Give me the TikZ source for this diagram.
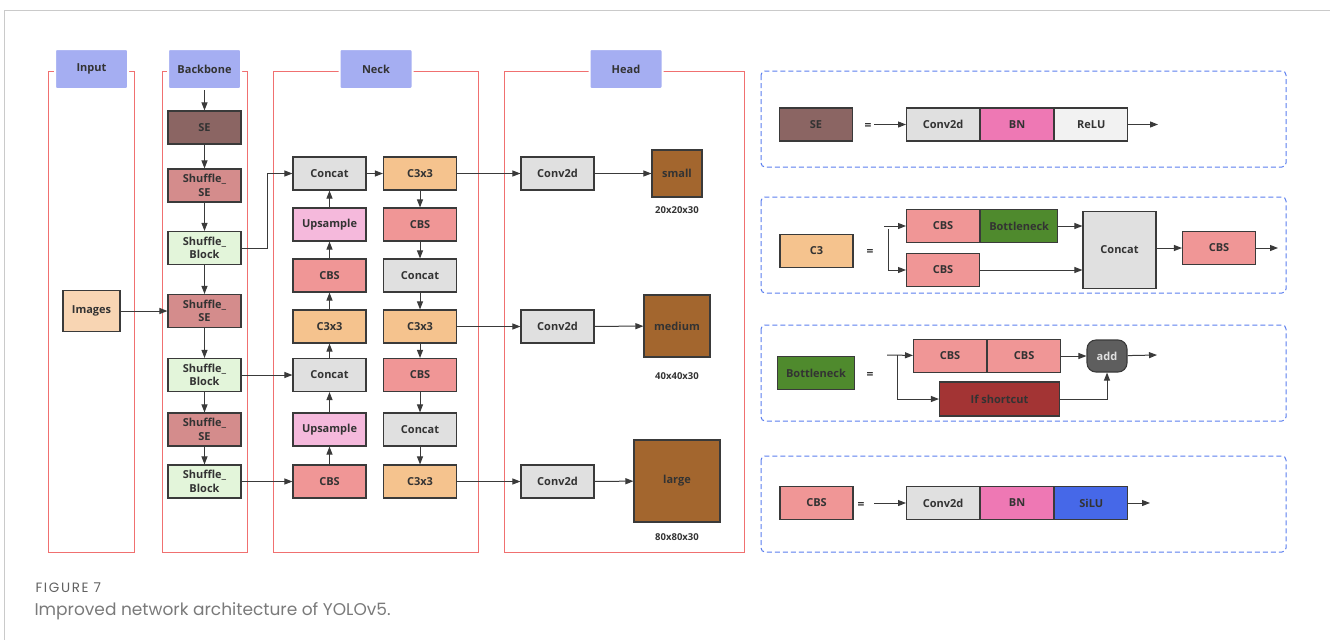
\documentclass[tikz,border=0pt]{standalone}
\usepackage{fontspec}
\setmainfont{Open Sans}
\newfontfamily\capfont{Poppins}
\newfontfamily\capnofont[LetterSpace=12]{Poppins}
\usepackage{xcolor}
\definecolor{colHdr}{HTML}{A5AEF2}
\definecolor{colLane}{HTML}{F07070}
\definecolor{colPanel}{HTML}{5A7EEE}
\definecolor{colRule}{HTML}{CACACA}
\definecolor{colEdge}{HTML}{3A3A3A}
\definecolor{colTxt}{HTML}{333333}
\definecolor{colSE}{HTML}{8B6563}
\definecolor{colShSE}{HTML}{D48C8C}
\definecolor{colShBl}{HTML}{E3F5DA}
\definecolor{colImg}{HTML}{F8D5B3}
\definecolor{colGray}{HTML}{E0E0E0}
\definecolor{colC3}{HTML}{F5C38E}
\definecolor{colCBS}{HTML}{F09696}
\definecolor{colUp}{HTML}{F5B9DC}
\definecolor{colOut}{HTML}{A3662E}
\definecolor{colBN}{HTML}{EE78B4}
\definecolor{colReLU}{HTML}{F2F2F2}
\definecolor{colSiLU}{HTML}{4668E8}
\definecolor{colBott}{HTML}{4F8A2D}
\definecolor{colShort}{HTML}{A33434}
\definecolor{colAdd}{HTML}{5E5E5E}
\usepackage{tikz}
\usetikzlibrary{arrows.meta, positioning}

\tikzset{
	blk/.style={draw=colEdge, line width=1.1pt, minimum width=73pt, minimum height=33pt, inner sep=1pt,
		align=center, text=colTxt, font=\bfseries\fontsize{11}{13.5}\selectfont},
	hdr/.style={fill=colHdr, draw=white, line width=2pt, rounded corners=2pt, minimum width=73pt,
		minimum height=40pt, text=colTxt, font=\bfseries\fontsize{11}{13.5}\selectfont},
	lane/.style={draw=colLane, line width=0.9pt},
	panel/.style={draw=colPanel, line width=1pt, dash pattern=on 5pt off 3pt, rounded corners=4pt},
	arr/.style={draw=colEdge, line width=1pt, -{Triangle[length=8pt, width=6pt]}},
	eqs/.style={text=colTxt, font=\bfseries\fontsize{12}{14}\selectfont},
	dim/.style={text=colTxt, font=\bfseries\fontsize{9.5}{11}\selectfont},
}

\begin{document}
\begin{tikzpicture}[x=1pt, y=-1pt]
	\useasboundingbox (0,0) rectangle (1330,640);
	\draw[colRule, line width=1pt] (1330,10) -- (4,10) -- (4,640);

	% the four stages
	\draw[lane] (48,71) rectangle (134,552);
	\draw[lane] (162,71) rectangle (247,552);
	\draw[lane] (273,71) rectangle (478,552);
	\draw[lane] (504,71) rectangle (744,552);
	\node[hdr] (hIn) at (91.5,69) {Input};
	\node[hdr] (hBack) at (204.5,69) {Backbone};
	\node[hdr] (hNeck) at (376,69) {Neck};
	\node[hdr] (hHead) at (626,69) {Head};

	\node[blk, fill=colImg, minimum width=57pt, minimum height=41pt] (img) at (91.5,311) {Images};

	% backbone
	\node[blk, fill=colSE] (se) at (204.5,127.5) {SE};
	\node[blk, fill=colShSE] (bs1) at (204.5,185.5) {Shuffle\_\\SE};
	\node[blk, fill=colShBl] (bb1) at (204.5,248) {Shuffle\_\\Block};
	\node[blk, fill=colShSE] (bs2) at (204.5,311) {Shuffle\_\\SE};
	\node[blk, fill=colShBl] (bb2) at (204.5,375) {Shuffle\_\\Block};
	\node[blk, fill=colShSE] (bs3) at (204.5,429.5) {Shuffle\_\\SE};
	\node[blk, fill=colShBl] (bb3) at (204.5,481.5) {Shuffle\_\\Block};
	\draw[arr] (hBack) -- (se);
	\foreach \a/\b in {se/bs1, bs1/bb1, bb1/bs2, bs2/bb2, bb2/bs3, bs3/bb3}
		\draw[arr] (\a) -- (\b);
	\draw[arr] (img) -- (bs2);

	% neck
	\node[blk, fill=colGray] (nc1) at (329.5,173.5) {Concat};
	\node[blk, fill=colUp] (nu1) at (329.5,224.5) {Upsample};
	\node[blk, fill=colCBS] (nb1) at (329.5,275.5) {CBS};
	\node[blk, fill=colC3] (nx1) at (329.5,326.5) {C3x3};
	\node[blk, fill=colGray] (nc2) at (329.5,375) {Concat};
	\node[blk, fill=colUp] (nu2) at (329.5,429.5) {Upsample};
	\node[blk, fill=colCBS] (nb2) at (329.5,481.5) {CBS};
	\node[blk, fill=colC3] (rx1) at (420,173.5) {C3x3};
	\node[blk, fill=colCBS] (rb1) at (420,224.5) {CBS};
	\node[blk, fill=colGray] (rc1) at (420,275.5) {Concat};
	\node[blk, fill=colC3] (rx2) at (420,326.5) {C3x3};
	\node[blk, fill=colCBS] (rb2) at (420,375) {CBS};
	\node[blk, fill=colGray] (rc2) at (420,429.5) {Concat};
	\node[blk, fill=colC3] (rx3) at (420,481.5) {C3x3};
	\coordinate (bend) at (267,248);
	\draw[arr] (bb1.east) -- (bend) |- (nc1.west);
	\draw[arr] (bb2) -- (nc2);
	\draw[arr] (bb3) -- (nb2);
	\foreach \a/\b in {nb2/nu2, nu2/nc2, nc2/nx1, nx1/nb1, nb1/nu1, nu1/nc1}
		\draw[arr] (\a) -- (\b);
	\draw[arr] (nc1) -- (rx1);
	\foreach \a/\b in {rx1/rb1, rb1/rc1, rc1/rx2, rx2/rb2, rb2/rc2, rc2/rx3}
		\draw[arr] (\a) -- (\b);

	% head
	\node[blk, fill=colGray] (cv1) at (557.5,173.5) {Conv2d};
	\node[blk, fill=colGray] (cv2) at (557.5,326.5) {Conv2d};
	\node[blk, fill=colGray] (cv3) at (557.5,481.5) {Conv2d};
	\node[blk, fill=colOut, minimum width=50pt, minimum height=47pt] (sm) at (677,173.5) {small};
	\node[blk, fill=colOut, minimum width=66pt, minimum height=62pt] (md) at (677,326) {medium};
	\node[blk, fill=colOut, minimum width=86pt, minimum height=82pt] (lg) at (677,481) {large};
	\node[dim] (smDim) at (677,210) {20x20x30};
	\node[dim] (mdDim) at (677,376) {40x40x30};
	\node[dim] (lgDim) at (677,537) {80x80x30};
	\draw[arr] (rx1) -- (cv1);
	\draw[arr] (rx2) -- (cv2);
	\draw[arr] (rx3) -- (cv3);
	\draw[arr] (cv1) -- (sm);
	\draw[arr] (cv2) -- (md);
	\draw[arr] (cv3) -- (lg);

	% module definitions
	\draw[panel] (761,71) rectangle (1286,167);
	\draw[panel] (761,197) rectangle (1286,293);
	\draw[panel] (761,325) rectangle (1286,421);
	\draw[panel] (761,456) rectangle (1286,552);

	% SE
	\node[blk, fill=colSE] (seK) at (816,124.5) {SE};
	\node[eqs] (eq1) at (868,126) {=};
	\node[blk, fill=colGray, anchor=west] (p1a) at (906,124.5) {Conv2d};
	\node[blk, fill=colBN, right=0pt of p1a] (p1b) {BN};
	\node[blk, fill=colReLU, right=0pt of p1b] (p1c) {ReLU};
	\coordinate (p1i) at (874,124.5);
	\coordinate (p1o) at (1158,124.5);
	\draw[arr] (p1i) -- (p1a);
	\draw[arr] (p1c) -- (p1o);

	% C3
	\node[blk, fill=colC3] (c3K) at (816.5,251) {C3};
	\node[eqs] (eq2) at (870,252) {=};
	\node[blk, fill=colCBS, anchor=west] (p2a) at (906,226) {CBS};
	\node[blk, fill=colBott, minimum width=77pt, right=0pt of p2a] (p2b) {Bottleneck};
	\node[blk, fill=colCBS, anchor=west] (p2c) at (906,270) {CBS};
	\node[blk, fill=colGray, minimum height=77pt] (p2d) at (1119.5,250) {Concat};
	\node[blk, fill=colCBS] (p2e) at (1219,248) {CBS};
	\coordinate (p2s) at (884,226);
	\coordinate (p2v) at (888,229);
	\coordinate (p2o) at (1278,248);
	\draw[arr] (p2s) -- (p2a);
	\draw[arr] (p2v) |- (p2c);
	\draw[arr] (p2b) -- (p2b -| p2d.west);
	\draw[arr] (p2c) -- (p2c -| p2d.west);
	\draw[arr] (p2d.east |- p2e) -- (p2e);
	\draw[arr] (p2e) -- (p2o);

	% Bottleneck
	\node[blk, fill=colBott, minimum width=77pt] (bnK) at (816,373) {Bottleneck};
	\node[eqs] (eq3) at (870,375) {=};
	\node[blk, fill=colCBS, anchor=west] (p3a) at (913,356) {CBS};
	\node[blk, fill=colCBS, right=0pt of p3a] (p3b) {CBS};
	\node[blk, fill=colAdd, text=colGray, rounded corners=9pt, minimum width=40pt, minimum height=32pt] (p3d) at (1107,356) {add};
	\node[blk, fill=colShort, minimum width=120pt, minimum height=34pt] (p3c) at (999.5,399) {If shortcut};
	\coordinate (p3s) at (887,355);
	\coordinate (p3v) at (897,355);
	\coordinate (p3o) at (1157,355);
	\draw[arr] (p3s) -- (p3a);
	\draw[arr] (p3v) |- (p3c);
	\draw[arr] (p3b) -- (p3d);
	\draw[arr] (p3c.east) -| (p3d.south);
	\draw[arr] (p3d) -- (p3o);

	% CBS
	\node[blk, fill=colCBS] (cbsK) at (816.5,503) {CBS};
	\node[eqs] (eq4) at (861,505) {=};
	\node[blk, fill=colGray, anchor=west] (p4a) at (906,503) {Conv2d};
	\node[blk, fill=colBN, right=0pt of p4a] (p4b) {BN};
	\node[blk, fill=colSiLU, right=0pt of p4b] (p4c) {SiLU};
	\coordinate (p4i) at (874,503);
	\coordinate (p4o) at (1150,503);
	\draw[arr] (p4i) -- (p4a);
	\draw[arr] (p4c) -- (p4o);

	\node[anchor=west, text=black!62, font=\capnofont\fontsize{13.5}{15}\selectfont] (figNo) at (32,588) {FIGURE 7};
	\node[anchor=west, text=black!52, font=\capfont\fontsize{17}{19}\selectfont] (figCap) at (31,611) {Improved network architecture of YOLOv5.};
\end{tikzpicture}
\end{document}
